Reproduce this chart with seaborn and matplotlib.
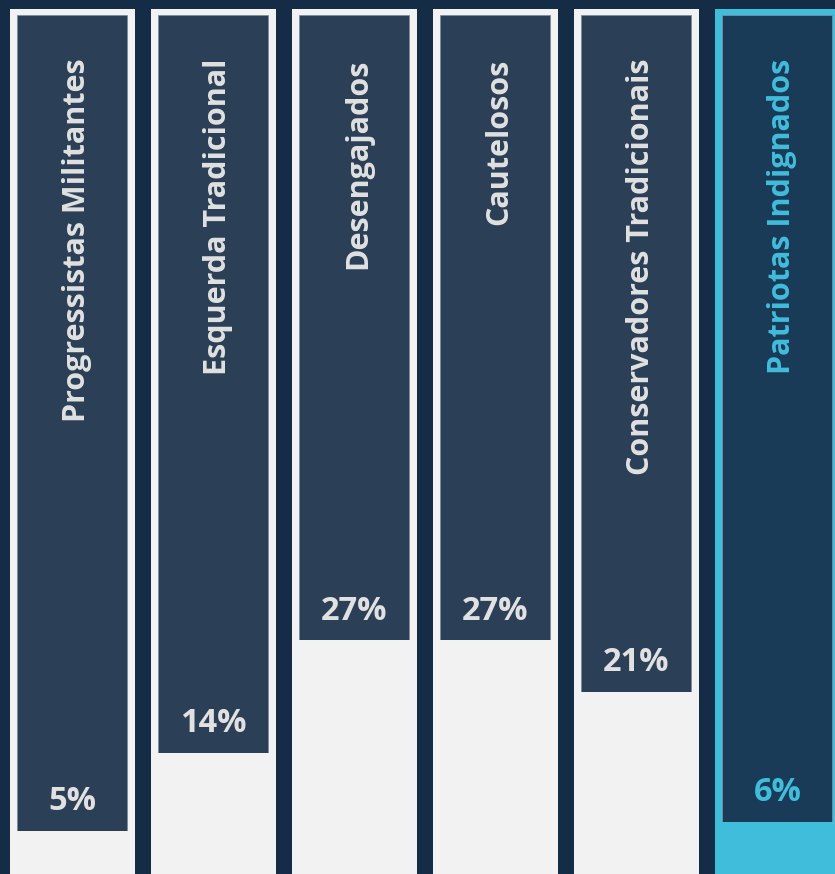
import matplotlib
matplotlib.use("Agg")
import matplotlib.pyplot as plt
import seaborn as sns
import pandas as pd

# Segment shares (%)
categories = ["Progressistas Militantes", "Esquerda Tradicional", "Desengajados",
              "Cautelosos", "Conservadores Tradicionais", "Patriotas Indignados"]
shares = [5, 14, 27, 27, 21, 6]
highlight = "Patriotas Indignados"

BG = "#152c47"
LIGHT = "#f2f2f2"
CYAN = "#41bddc"
DARK = "#2b4057"
DARK_HI = "#1a3b57"
TEXT = "#e1e1e1"

df = pd.DataFrame({"segmento": categories, "pct": shares})
df["total"] = 100.0
df["topo"] = 99.3

frame_pal = {c: (CYAN if c == highlight else LIGHT) for c in categories}
dark_pal = {c: (DARK_HI if c == highlight else DARK) for c in categories}

sns.set_theme(style="white")
plt.rcParams["font.family"] = ["Open Sans", "DejaVu Sans"]

fig = plt.figure(figsize=(8.35, 8.74), dpi=100, facecolor=BG)
ax = fig.add_axes([0, 0, 1, 1])
ax.set_facecolor(BG)

# outer column frame
sns.barplot(data=df, x="segmento", y="total", hue="segmento", palette=frame_pal,
            width=0.887, saturation=1, legend=False, ax=ax, linewidth=0)
# dark inner panel
sns.barplot(data=df, x="segmento", y="topo", hue="segmento", palette=dark_pal,
            width=0.78, saturation=1, legend=False, ax=ax,
            edgecolor="#7a8ca0", linewidth=0.6)
# share filled from the bottom
sns.barplot(data=df, x="segmento", y="pct", hue="segmento", palette=frame_pal,
            width=0.80, saturation=1, legend=False, ax=ax, linewidth=0)

for i, (cat, p) in enumerate(zip(categories, shares)):
    col = CYAN if cat == highlight else TEXT
    ax.text(i + 0.03, 94.3, cat, rotation=90, ha="center", va="top",
            fontsize=22, fontweight="bold", color=col)
    ax.text(i, p + 3.4, f"{p}%", ha="center", va="center",
            fontsize=23.5, fontweight="bold", color=col)

ax.set_xlim(-0.514, 5.408)
ax.set_ylim(0, 101.04)
ax.set_axis_off()

fig.savefig("out.png", dpi=100, facecolor=BG)
